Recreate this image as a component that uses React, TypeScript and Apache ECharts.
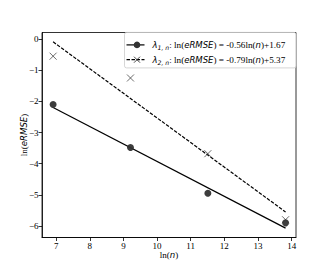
import React, { useEffect, useRef } from "react";
import * as echarts from "echarts";

const lnN = [6.91, 9.21, 11.51, 13.82];
const lambda1Points = [-2.1, -3.48, -4.95, -5.9];
const lambda2Points = [-0.55, -1.25, -3.68, -5.8];
const fitX = [6.91, 13.82];
const lambda1Fit = [-2.2, -6.07];
const lambda2Fit = [-0.09, -5.55];
const xTicks = [7, 8, 9, 10, 11, 12, 13, 14];
const yTicks = [0, -1, -2, -3, -4, -5, -6];
const legendLabels = [
  { sub: "1, n", eq: "-0.56", c: "+1.67" },
  { sub: "2, n", eq: "-0.79", c: "+5.37" },
];

const SERIF = "Liberation Serif";
const SANS = "DejaVu Sans";

export default function App() {
  const ref = useRef<HTMLDivElement>(null);
  useEffect(() => {
    const chart = echarts.init(ref.current!, null, { renderer: "svg" });
    const richBase = {
      s: { fontFamily: SERIF, fontSize: 9.2, color: "#000", lineHeight: 12 },
      i: { fontFamily: SANS, fontStyle: "italic", fontSize: 8.5, color: "#000", lineHeight: 12 },
      sub: { fontFamily: SANS, fontStyle: "italic", fontSize: 6.1, color: "#000", lineHeight: 12, verticalAlign: "bottom", padding: [4, 0, 0, 0] },
    };
    const legendText = (k: number) => {
      const l = legendLabels[k];
      return `{i|λ}{sub|${l.sub}}{s|: ln(}{i|eRMSE}{s|) = ${l.eq}ln(}{i|n}{s|)${l.c}}`;
    };
    const nameRich = {
      s: { fontFamily: SERIF, fontSize: 9, color: "#000" },
      i: { fontFamily: SANS, fontStyle: "italic", fontSize: 8.6, color: "#000" },
    };
    const lx = 124, ly = 32;
    chart.setOption({
      animation: false,
      grid: { left: 42, right: 37, top: 32.5, bottom: 29.5, show: true, borderColor: "#000", borderWidth: 0.8, backgroundColor: "transparent" },
      xAxis: {
        type: "value",
        min: 6.58,
        max: 14.13,
        name: "{s|ln(}{i|n}{s|)}",
        nameLocation: "middle",
        nameGap: 12.5,
        nameMoveOverlap: false,
        nameTextStyle: { rich: nameRich },
        axisLine: { show: true, onZero: false, lineStyle: { color: "#000", width: 0.8 } },
        axisTick: { show: true, length: 3.5, lineStyle: { color: "#000", width: 0.8 }, customValues: xTicks },
        axisLabel: { customValues: xTicks, fontFamily: SERIF, fontSize: 9, color: "#000", margin: 3.5 },
        splitLine: { show: false },
      },
      yAxis: {
        type: "value",
        min: -6.37,
        max: 0.21,
        name: "{s|ln(}{i|eRMSE}{s|)}",
        nameLocation: "middle",
        nameGap: 13.5,
        nameMoveOverlap: false,
        nameRotate: 90,
        nameTextStyle: { rich: nameRich },
        axisLine: { show: true, onZero: false, lineStyle: { color: "#000", width: 0.8 } },
        axisTick: { show: true, length: 3.5, lineStyle: { color: "#000", width: 0.8 }, customValues: yTicks },
        axisLabel: {
          customValues: yTicks,
          fontFamily: SERIF,
          fontSize: 9,
          color: "#000",
          margin: 3.5,
          formatter: (v: number) => (v < 0 ? "\u2212" + Math.abs(v) : String(v)),
        },
        splitLine: { show: false },
      },
      series: [
        {
          type: "line",
          data: fitX.map((x, k) => [x, lambda1Fit[k]]),
          showSymbol: false,
          symbol: "none",
          lineStyle: { color: "#000", width: 1.2 },
          z: 2,
        },
        {
          type: "line",
          data: fitX.map((x, k) => [x, lambda2Fit[k]]),
          showSymbol: false,
          symbol: "none",
          lineStyle: { color: "#000", width: 1.2, type: [3.5, 1.5] },
          z: 2,
        },
        {
          type: "scatter",
          data: lnN.map((x, k) => [x, lambda1Points[k]]),
          symbol: "circle",
          symbolSize: 7,
          itemStyle: { color: "#333", opacity: 0.95 },
          z: 3,
        },
        {
          type: "scatter",
          data: lnN.map((x, k) => [x, lambda2Points[k]]),
          symbol: "path://M0,0L10,10M10,0L0,10",
          symbolSize: 7,
          itemStyle: { color: "transparent", borderColor: "#333", borderWidth: 0.9 },
          z: 3,
        },
      ],
      graphic: [
        {
          type: "group",
          left: lx,
          top: ly,
          children: [
            { type: "rect", shape: { x: 0, y: 0, width: 171.5, height: 35.5, r: 2 }, style: { fill: "rgba(255,255,255,0.85)", stroke: "#ccc", lineWidth: 0.8 } },
            { type: "line", shape: { x1: 2, y1: 12.5, x2: 20, y2: 12.5 }, style: { stroke: "#000", lineWidth: 1.2 } },
            { type: "circle", shape: { cx: 12.5, cy: 12.5, r: 3.3 }, style: { fill: "#333" } },
            { type: "line", shape: { x1: 2, y1: 27.3, x2: 20, y2: 27.3 }, style: { stroke: "#000", lineWidth: 1.2, lineDash: [3.5, 1.5] } },
            { type: "line", shape: { x1: 9.5, y1: 24.3, x2: 15.5, y2: 30.3 }, style: { stroke: "#333", lineWidth: 0.9 } },
            { type: "line", shape: { x1: 15.5, y1: 24.3, x2: 9.5, y2: 30.3 }, style: { stroke: "#333", lineWidth: 0.9 } },
            { type: "text", x: 28, y: 12.5, style: { text: legendText(0), rich: richBase, verticalAlign: "middle", align: "left" } },
            { type: "text", x: 28, y: 27.3, style: { text: legendText(1), rich: richBase, verticalAlign: "middle", align: "left" } },
          ],
        },
      ],
    });
    return () => chart.dispose();
  }, []);
  return <div ref={ref} style={{ position: "fixed", left: 0, top: 0, width: 333, height: 267, background: "#fff" }} />;
}
